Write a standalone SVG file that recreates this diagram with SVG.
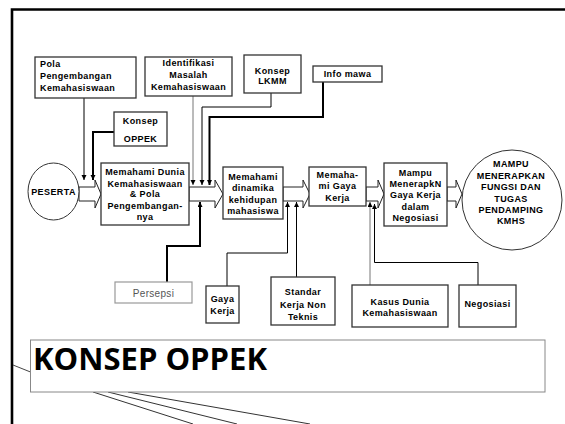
<svg xmlns="http://www.w3.org/2000/svg" width="565" height="424" viewBox="0 0 565 424">
<defs>
<marker id="ah" markerUnits="userSpaceOnUse" markerWidth="6" markerHeight="6" refX="5" refY="2.5" orient="auto"><path d="M0,0 L5,2.5 L0,5 Z" fill="#000"/></marker>
<style>
.t{font-family:"Liberation Sans",Arial,sans-serif;font-weight:bold;font-size:9px;letter-spacing:0.4px;fill:#000;text-anchor:middle}
.l{text-anchor:start}
.b{fill:#fff;stroke:#333;stroke-width:1.3}
.ba{fill:#fff;stroke:#222;stroke-width:1}
.c{fill:none;stroke:#000;stroke-width:1}
.ck{fill:none;stroke:#000;stroke-width:2}
.cg{fill:none;stroke:#777;stroke-width:1}
</style>
</defs>
<rect width="565" height="424" fill="#fff"/>
<g id="frame">
<path d="M12,424 V9.5 H565" fill="none" stroke="#000" stroke-width="2.6"/>
</g>
<g id="connectors">
<path class="c" d="M84,98 V180" marker-end="url(#ah)"/>
<path class="ck" d="M114,132 H93 V180" marker-end="url(#ah)"/>
<path class="cg" d="M193,96 V185" marker-end="url(#ah)"/>
<path class="c" d="M271,93 V107 H202 V185" marker-end="url(#ah)"/>
<path class="ck" d="M323,82 V117 H209.5 V185" marker-end="url(#ah)"/>
<path class="ck" d="M167,282 V246 H200 V202" marker-end="url(#ah)"/>
<path class="c" d="M227,286 V253 H287.5 V202" marker-end="url(#ah)"/>
<path class="c" d="M296.5,277 V202" marker-end="url(#ah)"/>
<path class="cg" d="M370,285 V202" marker-end="url(#ah)"/>
<path class="c" d="M478,285 V262.5 H374.5 V204" marker-end="url(#ah)"/>
<path class="ba" d="M79,187 H95 V180 L101,194 L95,208 V201 H79 Z"/>
<path class="ba" d="M189,187 H215 V180 L223,194 L215,208 V201 H189 Z"/>
<path class="ba" d="M283,187 H303 V180 L310,194 L303,208 V201 H283 Z"/>
<path class="ba" d="M366,187 H378 V180 L384,194 L378,208 V201 H366 Z"/>
<path class="ba" d="M447,187 H456 V180 L462,194 L456,208 V201 H447 Z"/>
<path d="M13,365 L30.5,372" fill="none" stroke="#444" stroke-width="1"/>
<path d="M93,392 L193,424 M108,392 L237,424 M128,392 L310,424" fill="none" stroke="#333" stroke-width="1"/>
</g>
<g id="pola">
<rect class="b" x="35" y="57" width="101" height="41"/>
<text class="t l" x="40" y="67">Pola</text>
<text class="t l" x="40" y="79">Pengembangan</text>
<text class="t l" x="40" y="91">Kemahasiswaan</text>
</g>
<g id="identifikasi">
<rect class="b" x="145" y="57" width="87" height="39"/>
<text class="t" x="188.5" y="66">Identifikasi</text>
<text class="t" x="188.5" y="77.5">Masalah</text>
<text class="t" x="188.5" y="90">Kemahasiswaan</text>
</g>
<g id="lkmm">
<rect class="b" x="244" y="55" width="57" height="38"/>
<text class="t" x="272.5" y="74">Konsep</text>
<text class="t" x="272.5" y="84">LKMM</text>
</g>
<g id="infomawa">
<rect class="b" x="313" y="66" width="69" height="16"/>
<text class="t" x="347.5" y="77">Info mawa</text>
</g>
<g id="konsepoppek">
<rect class="b" x="114" y="112" width="53" height="34"/>
<text class="t" x="140.5" y="123.5">Konsep</text>
<text class="t" x="140.5" y="141.5">OPPEK</text>
</g>
<g id="peserta">
<ellipse cx="53.5" cy="191.5" rx="25.5" ry="28.5" fill="#fff" stroke="#333" stroke-width="1"/>
<text class="t" x="53.5" y="195">PESERTA</text>
</g>
<g id="dunia">
<rect class="b" x="101" y="163" width="88" height="62"/>
<text class="t" x="145" y="175">Memahami Dunia</text>
<text class="t" x="145" y="186.5">Kemahasiswaan</text>
<text class="t" x="145" y="197">&amp; Pola</text>
<text class="t" x="145" y="208.5">Pengembangan-</text>
<text class="t" x="145" y="219.5">nya</text>
</g>
<g id="dinamika">
<rect class="b" x="223" y="167" width="60" height="52"/>
<text class="t" x="253" y="179.5">Memahami</text>
<text class="t" x="253" y="191">dinamika</text>
<text class="t" x="253" y="202.5">kehidupan</text>
<text class="t" x="253" y="213.5">mahasiswa</text>
</g>
<g id="gayakerja1">
<rect class="b" x="309" y="167" width="57" height="39"/>
<text class="t" x="337.5" y="177.5">Memaha-</text>
<text class="t" x="337.5" y="189">mi Gaya</text>
<text class="t" x="337.5" y="200.5">Kerja</text>
</g>
<g id="mampu">
<rect class="b" x="384" y="163" width="63" height="63"/>
<text class="t" x="415.5" y="175.5">Mampu</text>
<text class="t" x="415.5" y="187">MenerapkN</text>
<text class="t" x="415.5" y="198">Gaya Kerja</text>
<text class="t" x="415.5" y="209.5">dalam</text>
<text class="t" x="415.5" y="221">Negosiasi</text>
</g>
<g id="tujuan">
<ellipse cx="512" cy="200" rx="50" ry="50" fill="#fff" stroke="#333" stroke-width="1"/>
<text class="t" x="511" y="167">MAMPU</text>
<text class="t" x="511" y="178.5">MENERAPKAN</text>
<text class="t" x="511" y="190">FUNGSI DAN</text>
<text class="t" x="511" y="201.5">TUGAS</text>
<text class="t" x="511" y="213">PENDAMPING</text>
<text class="t" x="511" y="224">KMHS</text>
</g>
<g id="persepsi">
<rect x="115" y="282" width="77" height="21" fill="#fff" stroke="#999" stroke-width="1.2"/>
<text class="t" x="153.5" y="297" style="font-weight:normal;font-size:10px;letter-spacing:0.3px;fill:#555">Persepsi</text>
</g>
<g id="gayakerja2">
<rect class="b" x="206" y="286" width="33" height="37"/>
<text class="t" x="222.5" y="302">Gaya</text>
<text class="t" x="222.5" y="313.5">Kerja</text>
</g>
<g id="standar">
<rect class="b" x="271" y="277" width="64" height="48"/>
<text class="t" x="303" y="295">Standar</text>
<text class="t" x="303" y="308">Kerja Non</text>
<text class="t" x="303" y="320">Teknis</text>
</g>
<g id="kasus">
<rect class="b" x="352" y="285" width="96" height="42"/>
<text class="t" x="400" y="305">Kasus Dunia</text>
<text class="t" x="400" y="315.5">Kemahasiswaan</text>
</g>
<g id="negosiasi">
<rect class="b" x="459" y="285" width="57" height="42"/>
<text class="t" x="487.5" y="307">Negosiasi</text>
</g>
<g id="judul">
<rect x="30.5" y="340" width="514.5" height="52" fill="#fff" stroke="#888" stroke-width="1"/>
<text x="33" y="370" style="font-family:'Open Sans','Liberation Sans',sans-serif;font-weight:bold;font-size:31px;fill:#000">KONSEP OPPEK</text>
</g>
</svg>
